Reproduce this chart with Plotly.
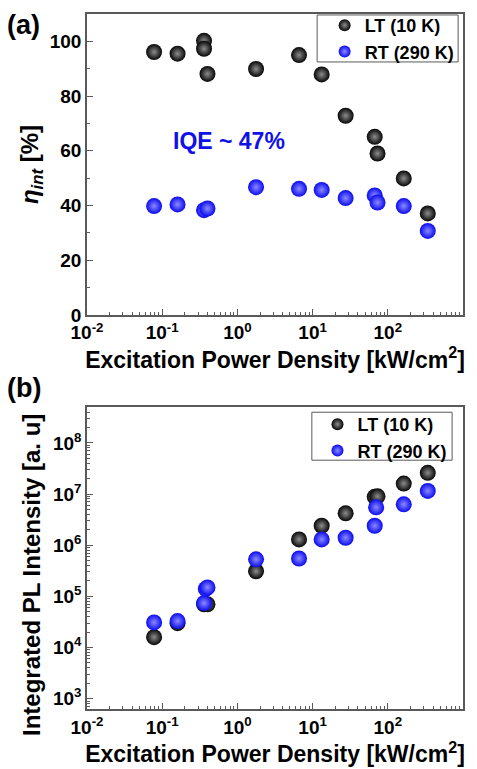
import plotly.graph_objects as go

# ---- Data ----
# (a) internal quantum efficiency
lt_a_x = [0.078, 0.16, 0.36, 0.36, 0.40, 1.77, 6.6, 13.2, 27.5, 67, 73, 163, 340]
lt_a_y = [96.1, 95.5, 100.2, 97.3, 88.1, 89.9, 95.0, 87.9, 72.8, 65.1, 59.0, 49.9, 37.1]
rt_a_x = [0.078, 0.16, 0.36, 0.40, 1.77, 6.6, 13.2, 27.5, 67, 73, 163, 340]
rt_a_y = [39.8, 40.4, 38.3, 38.9, 46.7, 46.1, 45.7, 42.7, 43.7, 41.1, 39.8, 30.7]

# (b) integrated PL intensity
lt_b_x = [0.078, 0.16, 0.36, 0.40, 1.77, 6.6, 13.2, 27.5, 67, 73, 163, 340]
lt_b_y = [1.6e4, 3.0e4, 7.0e4, 7.0e4, 3.1e5, 1.3e6, 2.4e6, 4.2e6, 8.8e6, 9.0e6, 1.6e7, 2.6e7]
rt_b_x = [0.078, 0.16, 0.36, 0.38, 0.40, 1.77, 6.6, 13.2, 27.5, 67, 70, 163, 340]
rt_b_y = [3.1e4, 3.3e4, 7.4e4, 1.4e5, 1.5e5, 5.3e5, 5.5e5, 1.3e6, 1.4e6, 2.4e6, 5.5e6, 6.3e6, 1.15e7]

x_tickvals = [1e-2, 1e-1, 1e0, 1e1, 1e2, 1e3]
x_ticktext = ["10<sup>-2</sup>", "10<sup>-1</sup>", "10<sup>0</sup>", "10<sup>1</sup>",
              "10<sup>2</sup>", "10<sup>3</sup>"]
yb_tickvals = [1e3, 1e4, 1e5, 1e6, 1e7, 1e8]
yb_ticktext = ["10<sup>3</sup>", "10<sup>4</sup>", "10<sup>5</sup>", "10<sup>6</sup>",
               "10<sup>7</sup>", "10<sup>8</sup>"]

FONT = "Liberation Sans, Arial, sans-serif"
BLACK = "#050505"
BLUE = "#0a0af0"
AXC = "#5a5a5a"

def minor_log(lo, hi):
    vals = []
    for e in range(lo, hi):
        for m in range(2, 10):
            vals.append(m * 10 ** e)
    return vals

def ball(color, center):
    return dict(color=color, size=16, line=dict(width=0),
                gradient=dict(type="radial", color=center))

fig = go.Figure()
fig.add_trace(go.Scatter(x=lt_a_x, y=lt_a_y, mode="markers", name="LT (10 K)",
                         marker=ball(BLACK, "#8c8c8c"), xaxis="x", yaxis="y", legend="legend"))
fig.add_trace(go.Scatter(x=rt_a_x, y=rt_a_y, mode="markers", name="RT (290 K)",
                         marker=ball(BLUE, "#8a8aff"), xaxis="x", yaxis="y", legend="legend"))
fig.add_trace(go.Scatter(x=lt_b_x, y=lt_b_y, mode="markers", name="LT (10 K)",
                         marker=ball(BLACK, "#8c8c8c"), xaxis="x2", yaxis="y2", legend="legend2"))
fig.add_trace(go.Scatter(x=rt_b_x, y=rt_b_y, mode="markers", name="RT (290 K)",
                         marker=ball(BLUE, "#8a8aff"), xaxis="x2", yaxis="y2", legend="legend2"))

axis_common = dict(showline=True, linecolor=AXC, linewidth=1.5, mirror=True,
                   ticks="inside", ticklen=6, tickcolor=AXC, showgrid=False, zeroline=False,
                   automargin=False,
                   tickfont=dict(family=FONT, size=19, color="black", weight="bold"))

xaxis_common = dict(axis_common, type="log", range=[-2, 3], tickmode="array",
                    tickvals=x_tickvals, ticktext=x_ticktext,
                    minor=dict(ticks="inside", ticklen=3, tickcolor=AXC,
                               tickmode="array", tickvals=minor_log(-2, 3)))

XTITLE = "<b>Excitation Power Density [kW/cm<sup>2</sup>]</b>"
LEGFONT = dict(family=FONT, size=18, color="black", weight="bold")

fig.update_layout(
    width=477, height=769,
    margin=dict(l=87, r=14, t=14, b=60, autoexpand=False),
    paper_bgcolor="white", plot_bgcolor="white",
    font=dict(family=FONT, color="black"),
    xaxis=dict(xaxis_common, domain=[0, 1], anchor="y",
               title=dict(text=XTITLE, font=dict(size=23), standoff=2)),
    yaxis=dict(axis_common, domain=[0.567, 1.0], anchor="x", range=[0, 110],
               tickmode="array", tickvals=[0, 20, 40, 60, 80, 100],
               minor=dict(ticks="inside", ticklen=3, tickcolor=AXC, dtick=10),
               title=dict(text="<b><i>η<sub>int</sub></i> [%]</b>", font=dict(size=24), standoff=4)),
    xaxis2=dict(xaxis_common, domain=[0, 1], anchor="y2",
                title=dict(text=XTITLE, font=dict(size=23), standoff=2)),
    yaxis2=dict(axis_common, type="log", domain=[0, 0.4345], anchor="x2", range=[2.8, 8.7],
                tickmode="array", tickvals=yb_tickvals, ticktext=yb_ticktext,
                minor=dict(ticks="inside", ticklen=3, tickcolor=AXC,
                           tickmode="array", tickvals=minor_log(2, 9))),
    legend=dict(x=0.632, y=1.0101, xanchor="left", yanchor="top",
                borderwidth=0, bgcolor="rgba(0,0,0,0)", font=LEGFONT, itemsizing="constant"),
    legend2=dict(x=0.613, y=0.436, xanchor="left", yanchor="top",
                 borderwidth=0, bgcolor="rgba(0,0,0,0)", font=LEGFONT, itemsizing="constant"),
    showlegend=True,
)

# legend frames
fig.add_shape(type="rect", xref="paper", yref="paper", x0=0.612, x1=0.987, y0=0.931, y1=0.9986,
              line=dict(color=AXC, width=1), fillcolor="white", layer="above")
fig.add_shape(type="rect", xref="paper", yref="paper", x0=0.598, x1=0.971, y0=0.358, y1=0.427,
              line=dict(color=AXC, width=1), fillcolor="white", layer="above")

fig.add_annotation(x=-0.146, y=0.193, xref="paper", yref="paper", xanchor="center", yanchor="middle",
                   text="<b>Integrated PL Intensity [a. u]</b>", textangle=-90,
                   showarrow=False, font=dict(family=FONT, size=24, color="black"))
fig.add_annotation(x=-0.112, y=63.6, xref="x", yref="y", text="<b>IQE ~ 47%</b>",
                   showarrow=False, font=dict(family=FONT, size=23, color="#1010e8"))
fig.add_annotation(x=-0.218, y=1.009, xref="paper", yref="paper", text="<b>(a)</b>",
                   showarrow=False, xanchor="left", yanchor="top",
                   font=dict(family=FONT, size=27, color="black"))
fig.add_annotation(x=-0.218, y=0.487, xref="paper", yref="paper", text="<b>(b)</b>",
                   showarrow=False, xanchor="left", yanchor="top",
                   font=dict(family=FONT, size=27, color="black"))

fig.write_html("out.html")
